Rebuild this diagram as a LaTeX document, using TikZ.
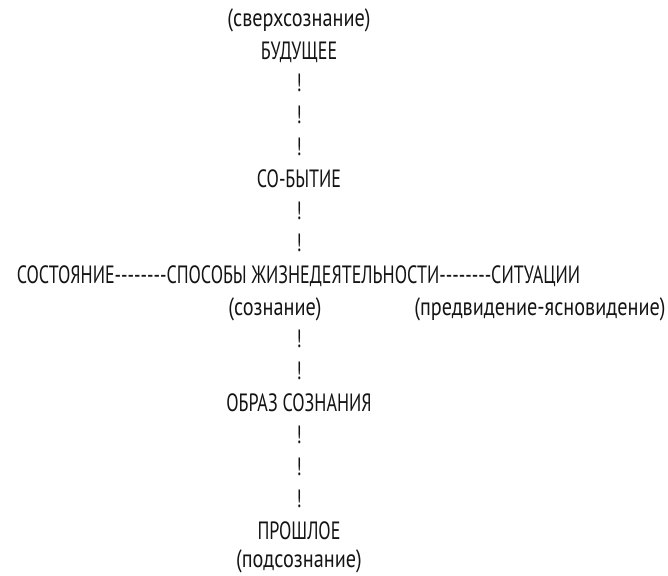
\documentclass[tikz,border=0pt]{standalone}
\usepackage{fontspec}
\setmainfont{PT Sans}[FakeStretch=0.72]
\newfontfamily\parfont{PT Sans}[FakeStretch=0.81]
\newcommand{\dashrun}{-{}-{}-{}-{}-{}-{}-{}-}
\tikzset{
  lbl/.style={anchor=base, inner sep=0pt, font=\fontsize{25}{30}\selectfont, text=black!92},
  plbl/.style={lbl, font=\fontsize{25}{30}\parfont},
}
\begin{document}
\begin{tikzpicture}[x=1pt,y=-1pt]
\useasboundingbox (0,0) rectangle (668,575);
\def\dy{32.06}
\node[plbl] (sup)  at (299,{27+0*\dy}) {(сверхсознание)};
\node[lbl] (fut)   at (299,{27+1*\dy}) {БУДУЩЕЕ};
\node[lbl] (e1)    at (299,{27+2*\dy}) {!};
\node[lbl] (e2)    at (299,{27+3*\dy}) {!};
\node[lbl] (e3)    at (299,{27+4*\dy}) {!};
\node[lbl] (event) at (299,{27+5*\dy}) {СО-БЫТИЕ};
\node[lbl] (e4)    at (299,{27+6*\dy}) {!};
\node[lbl] (e5)    at (299,{27+7*\dy}) {!};
\node[lbl] (main)  at (298.5,{27+8*\dy}) {СОСТОЯНИЕ\dashrun СПОСОБЫ ЖИЗНЕДЕЯТЕЛЬНОСТИ\dashrun СИТУАЦИИ};
\node[plbl] (cons) at (275,{27+9*\dy}) {(сознание)};
\node[plbl] (fore) at (540,{27+9*\dy}) {(предвидение-ясновидение)};
\node[lbl] (e6)    at (299,{27+10*\dy}) {!};
\node[lbl] (e7)    at (299,{27+11*\dy}) {!};
\node[lbl] (img)   at (299,{27+12*\dy}) {ОБРАЗ СОЗНАНИЯ};
\node[lbl] (e8)    at (299,{27+13*\dy}) {!};
\node[lbl] (e9)    at (299,{27+14*\dy}) {!};
\node[lbl] (e10)   at (299,{27+15*\dy}) {!};
\node[lbl] (past)  at (299,{27+16*\dy}) {ПРОШЛОЕ};
\node[plbl] (sub)  at (299,567) {(подсознание)};
\end{tikzpicture}
\end{document}
